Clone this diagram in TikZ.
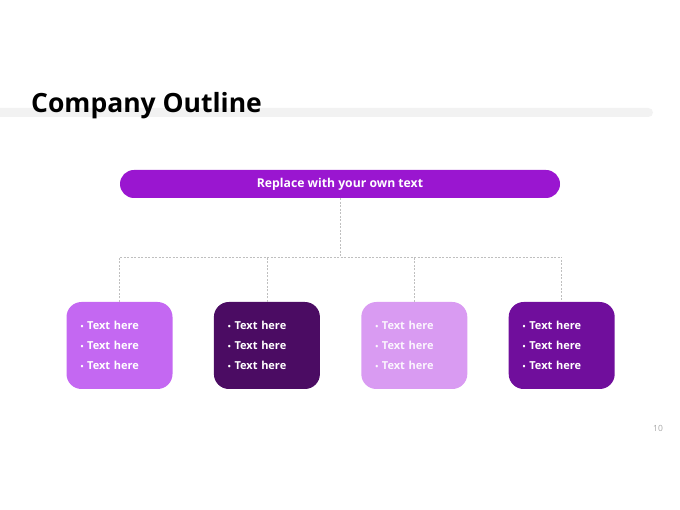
\documentclass[tikz,border=0pt]{standalone}
\usepackage{fontspec}
\setmainfont{Open Sans}
\usepackage{xcolor}
\usetikzlibrary{positioning}

\definecolor{barGray}{HTML}{F2F2F2}
\definecolor{topPurple}{HTML}{9A16D0}
\definecolor{boxA}{HTML}{C468F2}
\definecolor{boxB}{HTML}{4B0C63}
\definecolor{boxC}{HTML}{D99BF2}
\definecolor{boxD}{HTML}{700E9C}
\definecolor{linkGray}{HTML}{BFBFBF}
\definecolor{numGray}{HTML}{A6A6A6}

\newcommand{\dotmark}{{\fontsize{8}{8}\selectfont\textbullet}\ }
\newcommand{\itemlines}{\dotmark Text here\\[7.5pt]\dotmark Text here\\[7.5pt]\dotmark Text here}

\begin{document}
\begin{tikzpicture}[
    x=1pt, y=-1pt,
    node distance=41pt,
    card/.style={rounded corners=15pt, text width=78pt, inner xsep=14pt, inner ysep=0pt,
        minimum height=87pt, align=left, text=white, font=\fontsize{11}{12.5}\selectfont\bfseries},
    link/.style={draw=linkGray, dashed, dash pattern=on 2pt off 1.5pt, line width=0.5pt}
]
\useasboundingbox (0,0) rectangle (680,510);

% header band and title
\fill[barGray, rounded corners=4.5pt] (-10,108) rectangle (653,117);
\node[anchor=base west, inner sep=0pt, font=\fontsize{26.5}{30}\selectfont\bfseries] (title) at (31,113) {Company Outline};

% top banner
\node[fill=topPurple, rounded corners=14pt, minimum width=440pt, minimum height=28pt,
    text=white, font=\fontsize{12.2}{14}\selectfont\bfseries] (head) at (340,184) {Replace with your own text};

% four cards
\node[card, fill=boxA] (box1) at (119.5,345.5) {\itemlines};
\node[card, fill=boxB, right=of box1] (box2) {\itemlines};
\node[card, fill=boxC, right=of box2, text=white!90!boxC] (box3) {\itemlines};
\node[card, fill=boxD, right=of box3] (box4) {\itemlines};

% dashed tree
\coordinate (split) at (340,257);
\draw[link] (head.south) -- (split);
\draw[link] (box1.north) |- (split) -| (box4.north);
\draw[link] (box2.north) -- (box2.north |- split);
\draw[link] (box3.north) -- (box3.north |- split);

\node[text=numGray, font=\fontsize{8.5}{9}\selectfont] (page) at (658,428) {10};
\end{tikzpicture}
\end{document}
